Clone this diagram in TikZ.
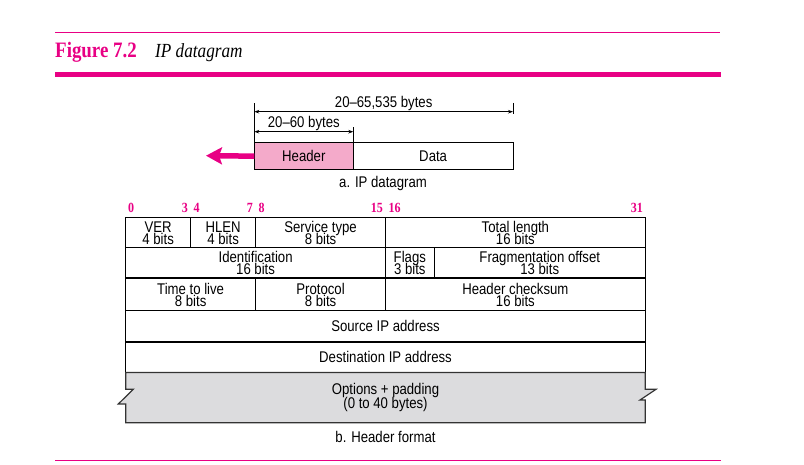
\documentclass[tikz,border=0pt]{standalone}
\usepackage{fontspec}
\setmainfont{Liberation Sans}[FakeStretch=0.85]
\newfontfamily\figfont{Liberation Serif}[FakeStretch=0.86]
\usetikzlibrary{arrows.meta, positioning}
\definecolor{figmag}{RGB}{232,0,132}
\definecolor{hdrpink}{RGB}{244,170,202}
\definecolor{optgray}{RGB}{220,220,222}
\newcommand{\cellsize}{\fontsize{15.5pt}{12pt}\selectfont\lineskiplimit=-20pt\relax}
\tikzstyle{cellfont} = [inner sep=0pt, align=center, font=\cellsize]
\tikzstyle{field} = [cellfont, rectangle, draw=black, line width=1pt, outer sep=0pt, minimum height=30.5pt, anchor=north west]
\tikzstyle{part} = [cellfont, rectangle, draw=black, line width=1pt, outer sep=0pt, minimum height=27.7pt, anchor=north west]
\tikzstyle{bitno} = [inner sep=0pt, text=figmag, font=\figfont\bfseries\fontsize{14pt}{14pt}\selectfont]
\tikzstyle{dim} = [line width=0.8pt, {Stealth[length=5pt,width=3.6pt]}-{Stealth[length=5pt,width=3.6pt]}]
\tikzstyle{tick} = [line width=0.8pt]
\tikzstyle{sep} = [line width=2pt]
\tikzstyle{edge} = [line width=5.5pt, figmag, -{Stealth[length=16pt,width=17pt,inset=3pt]}]
\tikzstyle{optbox} = [fill=optgray, draw=black!80, line width=1.2pt]
\begin{document}
\begin{tikzpicture}[x=1pt, y=-1pt]
\useasboundingbox (0,0) rectangle (804,465);

% title bar
\draw [figmag, line width=1.3pt] (55,32.3) -- (720,32.3);
\node (fig) [anchor=base west, inner sep=0pt, text=figmag, font=\figfont\bfseries\fontsize{22pt}{22pt}\selectfont] at (55,57.5) {Figure 7.2};
\node (figtitle) [anchor=base west, inner sep=0pt, font=\figfont\itshape\fontsize{20pt}{20pt}\selectfont] at (155,57.5) {IP datagram};
\draw [figmag, line width=5pt] (55,74.2) -- (721,74.2);

% a. IP datagram
\node (hdr) [part, fill=hdrpink, minimum width=99pt] at (254.3,142.3) {Header};
\node (data) [part, minimum width=159.7pt, right=0pt of hdr] {Data};
\coordinate (tip) at (206,155.7);
\draw [edge] (hdr.west) -- (tip);

\coordinate (totL) at (254.3,111.7);
\coordinate (totR) at (513,111.7);
\coordinate (hdrL) at (254.3,131.7);
\coordinate (hdrR) at (353.3,131.7);
\coordinate (tickL) at (254.3,103);
\coordinate (tickRt) at (513,103);
\coordinate (tickRb) at (513,114);
\coordinate (tickM) at (353.3,127);
\draw [tick] (hdr.north west) -- (tickL);
\draw [tick] (tickRt) -- (tickRb);
\draw [tick] (hdr.north east) -- (tickM);
\draw [dim] (totL) -- node[cellfont, above=1pt] {20--65,535 bytes} (totR);
\draw [dim] (hdrL) -- node[cellfont, above=1pt] {20--60 bytes} (hdrR);
\node (capa) [cellfont] at (383,183) {a. IP datagram};

% bit positions
\node [bitno, anchor=base west] at (128,213) {0};
\node [bitno, anchor=base east] at (188,213) {3};
\node [bitno, anchor=base west] at (193.5,213) {4};
\node [bitno, anchor=base east] at (253,213) {7};
\node [bitno, anchor=base west] at (258.5,213) {8};
\node [bitno, anchor=base east] at (383,213) {15};
\node [bitno, anchor=base west] at (388.5,213) {16};
\node [bitno, anchor=base east] at (643,213) {31};

% b. header format
\node (ver) [field, minimum width=64.95pt] at (125.7,217.5) {VER\\4 bits};
\node (hlen) [field, minimum width=64.95pt, right=0pt of ver] {HLEN\\4 bits};
\node (tos) [field, minimum width=129.9pt, right=0pt of hlen] {Service type\\8 bits};
\node (totlen) [field, minimum width=259.8pt, right=0pt of tos] {Total length\\16 bits};

\node (ident) [field, minimum width=259.8pt] at (ver.south west) {Identification\\16 bits};
\node (flags) [field, minimum width=48.7pt, right=0pt of ident] {Flags\\3 bits};
\node (frag) [field, minimum width=211.1pt, right=0pt of flags] {Fragmentation offset\\13 bits};

\node (ttl) [field, minimum width=129.9pt, minimum height=32pt] at (ident.south west) {Time to live\\8 bits};
\node (proto) [field, minimum width=129.9pt, minimum height=32pt, right=0pt of ttl] {Protocol\\8 bits};
\node (cksum) [field, minimum width=259.8pt, minimum height=32pt, right=0pt of proto] {Header checksum\\16 bits};

\node (src) [field, minimum width=519.6pt, minimum height=31.5pt] at (ttl.south west) {Source IP address};
\node (dst) [field, minimum width=519.6pt] at (src.south west) {Destination IP address};

\draw [sep] (ident.south west) -- (frag.south east);
\draw [sep] (src.south west) -- (src.south east);

\draw [optbox] (125.7,372.5) -- (125.7,389.3) -- (133.3,389.3) -- (118.3,404) -- (125.7,404) -- (125.7,422.7)
  -- (645.3,422.7) -- (645.3,400) -- (640,400) -- (656,389.3) -- (645.3,389.3) -- (645.3,372.5) -- cycle;
\node (opts) [cellfont, font=\fontsize{15.5pt}{14.5pt}\selectfont] at (385.5,397.6) {Options + padding\\(0 to 40 bytes)};
\node (capb) [cellfont] at (385.5,436.5) {b. Header format};

\draw [figmag, line width=1.5pt] (55,460.5) -- (720.5,460.5);
\end{tikzpicture}
\end{document}
